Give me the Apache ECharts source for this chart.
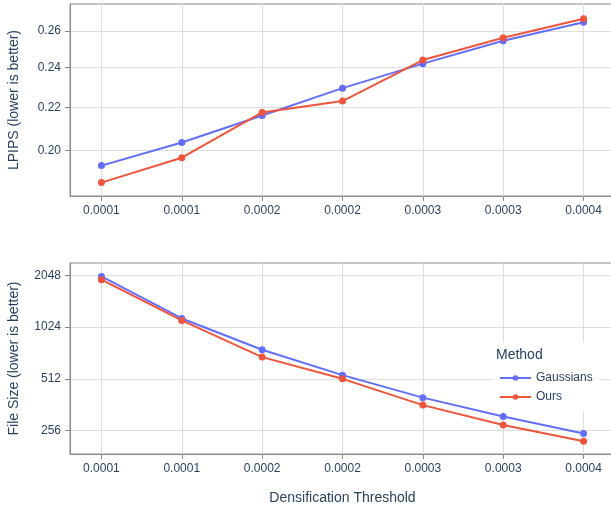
<!DOCTYPE html>
<html>
<head>
<meta charset="utf-8">
<script src="https://cdn.jsdelivr.net/npm/echarts@6/dist/echarts.min.js"></script>
<style>html,body{margin:0;padding:0;background:#fff;}#c{width:611px;height:510px;}</style>
</head>
<body>
<div id="c"></div>
<script>
const xLabels = ['0.0001','0.0001','0.0002','0.0002','0.0003','0.0003','0.0004'];
const xIdx = [0,1,2,3,4,5,6];
const lpipsGaussians = [0.1935,0.2036,0.2160,0.2294,0.2421,0.2546,0.2652];
const lpipsOurs = [0.1864,0.1969,0.2175,0.2230,0.2440,0.2563,0.2672];
const sizeGaussians = [2020,1150,756,538,398,309,246];
const sizeOurs = [1933,1120,685,512,360,276,222];
const lpipsTicks = [0.20,0.22,0.24,0.26];
const sizeTicks = [256,512,1024,2048];

const FONT = 'Liberation Sans, Arial, sans-serif';
const TXT = '#2a3f5f';
const BLUE = '#636efa';
const RED = '#EF553B';
const FRAME = '#8a8a8a';
const GRIDC = '#dedede';

function xAxis(gi, withName) {
  return {
    type: 'value', gridIndex: gi, min: -0.391, max: 6.391,
    axisLine: {show: true, onZero: false, lineStyle: {color: FRAME}},
    axisTick: {show: true, length: 5, lineStyle: {color: FRAME}, customValues: xIdx},
    axisLabel: {customValues: xIdx, formatter: v => xLabels[Math.round(v)], color: TXT, fontFamily: FONT, fontSize: 12, margin: 9},
    splitLine: {show: true, lineStyle: {color: GRIDC}},
    name: withName ? 'Densification Threshold' : '',
    nameLocation: 'middle', nameGap: 37,
    nameTextStyle: {color: TXT, fontFamily: FONT, fontSize: 14}
  };
}
function pair(a) { return xIdx.map((x, i) => [x, a[i]]); }
function line(name, data, color, xi, yi) {
  return {
    name, type: 'line', xAxisIndex: xi, yAxisIndex: yi,
    data, symbol: 'circle', symbolSize: 7, showSymbol: true,
    lineStyle: {color, width: 2}, itemStyle: {color},
    emphasis: {disabled: true}, animation: false
  };
}

const chart = echarts.init(document.getElementById('c'), null, {renderer: 'canvas'});
chart.setOption({
  animation: false,
  backgroundColor: '#fff',
  title: {text: 'Method', left: 496, top: 348, textStyle: {color: TXT, fontFamily: FONT, fontSize: 14, fontWeight: 'normal'}, padding: 0},
  legend: {
    orient: 'vertical', left: 493, top: 342,
    data: ['Gaussians', 'Ours'],
    itemWidth: 31, itemHeight: 7, itemGap: 7,
    backgroundColor: '#fff',
    padding: [30, 7, 8, 6],
    textStyle: {color: TXT, fontFamily: FONT, fontSize: 12},
    selectedMode: false
  },
  grid: [
    {left: 70, top: 4, width: 545, height: 192, show: true, borderColor: FRAME, borderWidth: 1, containLabel: false, outerBoundsMode: 'none'},
    {left: 70, top: 263, width: 545, height: 191, show: true, borderColor: FRAME, borderWidth: 1, containLabel: false, outerBoundsMode: 'none'}
  ],
  xAxis: [xAxis(0, false), xAxis(1, true)],
  yAxis: [
    {
      type: 'log', logBase: 10, gridIndex: 0, min: 0.181, max: 0.276,
      axisLine: {show: true, onZero: false, lineStyle: {color: FRAME}},
      axisTick: {show: true, length: 5, lineStyle: {color: FRAME}, customValues: lpipsTicks},
      axisLabel: {customValues: lpipsTicks, formatter: v => v.toFixed(2), color: TXT, fontFamily: FONT, fontSize: 12, margin: 9},
      splitLine: {show: true, lineStyle: {color: GRIDC}},
      name: 'LPIPS (lower is better)', nameLocation: 'middle', nameGap: 49,
      nameTextStyle: {color: TXT, fontFamily: FONT, fontSize: 14}
    },
    {
      type: 'log', logBase: 2, gridIndex: 1, min: 187, max: 2418,
      axisLine: {show: true, onZero: false, lineStyle: {color: FRAME}},
      axisTick: {show: true, length: 5, lineStyle: {color: FRAME}, customValues: sizeTicks},
      axisLabel: {customValues: sizeTicks, formatter: v => String(Math.round(v)), color: TXT, fontFamily: FONT, fontSize: 12, margin: 9},
      splitLine: {show: true, lineStyle: {color: GRIDC}},
      name: 'File Size (lower is better)', nameLocation: 'middle', nameGap: 49,
      nameTextStyle: {color: TXT, fontFamily: FONT, fontSize: 14}
    }
  ],
  series: [
    line('Gaussians', pair(lpipsGaussians), BLUE, 0, 0),
    line('Ours', pair(lpipsOurs), RED, 0, 0),
    line('Gaussians', pair(sizeGaussians), BLUE, 1, 1),
    line('Ours', pair(sizeOurs), RED, 1, 1)
  ]
});
</script>
</body>
</html>
